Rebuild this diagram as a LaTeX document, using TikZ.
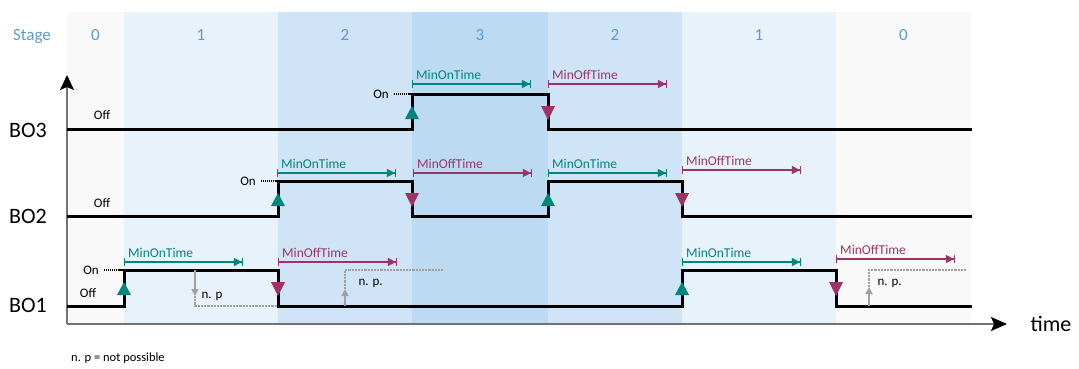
\documentclass[tikz,border=0pt]{standalone}
\usepackage{fontspec}
\setmainfont{Carlito}
\usetikzlibrary{arrows.meta}
\definecolor{stagezero}{HTML}{F9F9F9}
\definecolor{stageone}{HTML}{E8F2FB}
\definecolor{stagetwo}{HTML}{CFE4F7}
\definecolor{stagethree}{HTML}{BDDAF3}
\definecolor{stageblue}{HTML}{5B9BD5}
\definecolor{ontime}{HTML}{00857C}
\definecolor{offtime}{HTML}{9C3467}
\definecolor{npgrey}{HTML}{A0A0A0}
\begin{document}
\begin{tikzpicture}[x=1pt, y=-1pt,
  signal/.style={line width=3pt, black},
  axisline/.style={line width=1.2pt, black!55},
  stagelabel/.style={text=stageblue, anchor=base, font=\fontsize{17}{20}\selectfont},
  channel/.style={font=\fontsize{22}{26}\selectfont},
  level/.style={font=\fontsize{13}{15}\selectfont},
  timer/.style={line width=1.1pt, {Bar[width=8pt]}-{Triangle[length=8pt,width=8pt]Bar[width=8pt]}},
  timerlabel/.style={anchor=base west, inner sep=0pt, font=\fontsize{13.5}{16}\selectfont},
  npline/.style={npgrey, line width=1.6pt, dash pattern=on 2.2pt off 1pt},
  nptip/.style={npgrey, line width=1.6pt, -{Triangle[length=7pt,width=7pt]}},
  ondots/.style={line width=1.2pt, dash pattern=on 1.2pt off 0.7pt}]
  \useasboundingbox (0,0) rectangle (1079,368);

  % 1. Stage bands with their numbers
  \node[stagelabel] (stagehead) at (32,40) {Stage};
  \foreach \xa/\xb/\col/\num [count=\i] in {67/124/stagezero/0, 124/278/stageone/1,
      278/412/stagetwo/2, 412/548/stagethree/3, 548/682/stagetwo/2,
      682/836/stageone/1, 836/971/stagezero/0} {
    \fill[\col] (\xa,12) rectangle (\xb,324);
    \node[stagelabel] (stage\i) at ({(\xa+\xb)/2},40) {\num};
  }

  % 2. Axes
  \draw[axisline, -{Stealth[length=15pt,width=14pt,inset=3pt,color=black]}] (67,324) -- (67,75);
  \draw[axisline, -{Stealth[length=16pt,width=14pt,inset=3pt,color=black]}] (67,324) -- (1007,324);
  \node[channel] (timelabel) at (1051,324) {time};

  % 3. Outputs
  \node[channel] (bo3) at (28,130) {BO3};
  \node[channel] (bo2) at (28,216) {BO2};
  \node[channel] (bo1) at (28,305) {BO1};
  \draw[signal] (67,129) -- (412,129) -- (412,94) -- (548,94) -- (548,129) -- (972,129);
  \draw[signal] (67,216) -- (278,216) -- (278,181) -- (412,181) -- (412,216)
    -- (548,216) -- (548,181) -- (682,181) -- (682,216) -- (972,216);
  \draw[signal] (67,306) -- (124,306) -- (124,270) -- (278,270) -- (278,306)
    -- (682,306) -- (682,270) -- (836,270) -- (836,306) -- (972,306);

  % 4. On / Off levels
  \node[level] (off3) at (102,115) {Off};
  \node[level] (off2) at (102,203) {Off};
  \node[level] (off1) at (88,293) {Off};
  \node[level] (on3) at (381,94) {On};
  \node[level] (on2) at (248,181) {On};
  \node[level] (on1) at (91,270) {On};
  \draw[ondots, shorten <=2pt] (on3.east) -- (412,94);
  \draw[ondots, shorten <=2pt] (on2.east) -- (278,181);
  \draw[ondots, shorten <=2pt] (on1.east) -- (124,270);

  % 5. Switching marks on the edges
  \foreach \x/\y in {412/94, 278/181, 548/181, 124/270, 682/270} {
    \fill[ontime] (\x-7,\y+25) -- (\x+7,\y+25) -- (\x,\y+12) -- cycle;
  }
  \foreach \x/\y in {548/94, 412/181, 682/181, 278/270, 836/270} {
    \fill[offtime] (\x-7,\y+12) -- (\x+7,\y+12) -- (\x,\y+26) -- cycle;
  }

  % 6. Minimum on and off times, 119 units long
  \foreach \x/\y [count=\i] in {412/84, 277/173, 548/173, 124/262, 682/262} {
    \draw[timer, ontime] (\x,\y) -- (\x+119,\y);
    \node[timerlabel, text=ontime] (minon\i) at (\x+4,\y-5) {MinOnTime};
  }
  \foreach \x/\y [count=\i] in {548/84, 413/173, 682/170, 278/262, 836/259} {
    \draw[timer, offtime] (\x,\y) -- (\x+119,\y);
    \node[timerlabel, text=offtime] (minoff\i) at (\x+4,\y-5) {MinOffTime};
  }

  % 7. Switching that is not possible
  \draw[nptip] (195,270) -- (195,296);
  \draw[npline] (195,296) -- (195,306) -- (277,306);
  \node[level, anchor=west] (np1) at (198,296) {n. p};
  \draw[nptip] (345,306) -- (345,289);
  \draw[npline] (345,289) -- (345,270) -- (443,270);
  \node[level, anchor=west] (np2) at (355,283) {n. p.};
  \draw[nptip] (869,306) -- (869,287);
  \draw[npline] (869,287) -- (869,270) -- (967,270);
  \node[level, anchor=west] (np3) at (874,283) {n. p.};

  \node[anchor=base west, inner sep=0pt, font=\fontsize{12.5}{15}\selectfont] (legend) at (71,361) {n. p = not possible};
\end{tikzpicture}
\end{document}
